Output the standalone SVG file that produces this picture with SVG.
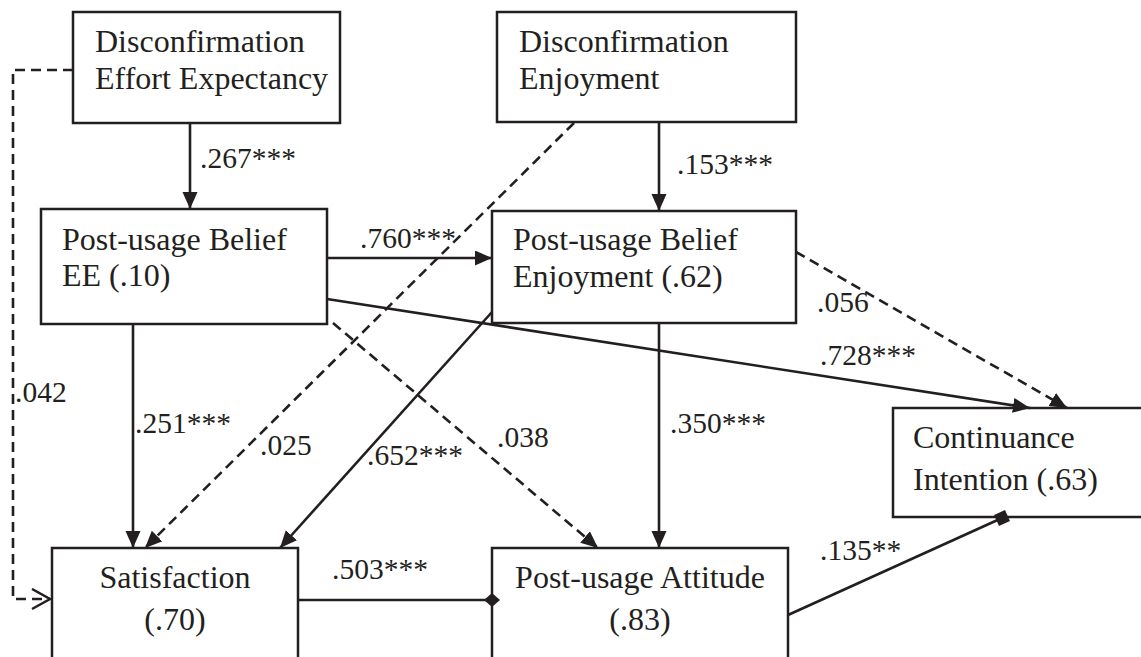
<svg xmlns="http://www.w3.org/2000/svg" width="1141" height="657" viewBox="0 0 1141 657">
  <style>
    .box { fill: #ffffff; stroke: #231f20; stroke-width: 2.5; }
    text { font-family: 'Liberation Serif', Tinos, 'DejaVu Serif', serif; fill: #231f20; }
    .t { font-size: 32px; }
    .c { text-anchor: middle; }
    .lbl { font-size: 29.5px; }
    .ln { fill: none; stroke: #231f20; stroke-width: 2.6; }
    .dash { stroke-dasharray: 10 6; }
  </style>
  <defs>
    <marker id="arrow" markerUnits="userSpaceOnUse" markerWidth="18" markerHeight="16" refX="17" refY="7.5" orient="auto" viewBox="0 0 18 16">
      <path d="M0,0 L17,7.5 L0,15 z" fill="#231f20"/>
    </marker>
    <marker id="open" markerUnits="userSpaceOnUse" markerWidth="22" markerHeight="24" refX="19" refY="11" orient="auto" viewBox="0 0 22 24">
      <path d="M1,1 L19,11 L1,21" fill="none" stroke="#231f20" stroke-width="2.5"/>
    </marker>
    <marker id="diamond" markerUnits="userSpaceOnUse" markerWidth="16" markerHeight="14" refX="8" refY="7" orient="auto" viewBox="0 0 16 14">
      <path d="M0,7 L8,0 L16,7 L8,14 z" fill="#231f20"/>
    </marker>
    <marker id="square" markerUnits="userSpaceOnUse" markerWidth="14" markerHeight="14" refX="7" refY="7" orient="auto" viewBox="0 0 14 14">
      <path d="M1,1 L13,1 L13,13 L1,13 z" fill="#231f20"/>
    </marker>
  </defs>

  <g id="disc-ee">
    <rect class="box" x="73" y="12" width="267" height="111"/>
    <text class="t" x="95" y="52">Disconfirmation</text>
    <text class="t" x="95" y="89">Effort Expectancy</text>
  </g>

  <g id="disc-enjoyment">
    <rect class="box" x="497" y="12" width="299" height="110"/>
    <text class="t" x="519" y="52">Disconfirmation</text>
    <text class="t" x="519" y="89">Enjoyment</text>
  </g>

  <g id="belief-ee">
    <rect class="box" x="41" y="209" width="286" height="115"/>
    <text class="t" x="62" y="250">Post-usage Belief</text>
    <text class="t" x="62" y="286">EE (.10)</text>
  </g>

  <g id="belief-enjoyment">
    <rect class="box" x="492" y="211" width="304" height="112"/>
    <text class="t" x="513" y="250">Post-usage Belief</text>
    <text class="t" x="513" y="287">Enjoyment (.62)</text>
  </g>

  <g id="continuance">
    <rect class="box" x="893" y="408" width="260" height="109"/>
    <text class="t" x="913" y="448">Continuance</text>
    <text class="t" x="913" y="490">Intention (.63)</text>
  </g>

  <g id="satisfaction">
    <rect class="box" x="52" y="548" width="246" height="120"/>
    <text class="t c" x="175" y="588">Satisfaction</text>
    <text class="t c" x="175" y="630">(.70)</text>
  </g>

  <g id="attitude">
    <rect class="box" x="492" y="548" width="296" height="120"/>
    <text class="t c" x="640" y="588">Post-usage Attitude</text>
    <text class="t c" x="640" y="630">(.83)</text>
  </g>

  <!-- paths between constructs, drawn over the boxes so end markers stay whole -->
  <g id="connectors">
    <path class="ln dash" d="M73,70 H13 V599 H50" marker-end="url(#open)"/>
    <path class="ln dash" d="M574,123 L145,548" marker-end="url(#arrow)"/>
    <path class="ln dash" d="M333,323 L598,548" marker-end="url(#arrow)"/>
    <path class="ln dash" d="M796,252 L1067,408" marker-end="url(#arrow)"/>
    <path class="ln" d="M190,123 V209" marker-end="url(#arrow)"/>
    <path class="ln" d="M659,122 V211" marker-end="url(#arrow)"/>
    <path class="ln" d="M327,258 H492" marker-end="url(#arrow)"/>
    <path class="ln" d="M327,299 L1030,408" marker-end="url(#arrow)"/>
    <path class="ln" d="M133,324 V548" marker-end="url(#arrow)"/>
    <path class="ln" d="M492,312 L280,548" marker-end="url(#arrow)"/>
    <path class="ln" d="M659,323 V548" marker-end="url(#arrow)"/>
    <path class="ln" d="M298,600 H492" marker-end="url(#diamond)"/>
    <path class="ln" d="M788,615 L1002,518" marker-end="url(#square)"/>
  </g>

  <!-- path coefficients -->
  <g id="labels">
    <text class="lbl" x="200" y="168">.267***</text>
    <text class="lbl" x="677" y="174">.153***</text>
    <text class="lbl" x="360" y="248">.760***</text>
    <text class="lbl" x="817" y="312">.056</text>
    <text class="lbl" x="820" y="365">.728***</text>
    <text class="lbl" x="15" y="402">.042</text>
    <text class="lbl" x="135" y="433">.251***</text>
    <text class="lbl" x="260" y="455">.025</text>
    <text class="lbl" x="367" y="465">.652***</text>
    <text class="lbl" x="497" y="447">.038</text>
    <text class="lbl" x="670" y="433">.350***</text>
    <text class="lbl" x="332" y="579">.503***</text>
    <text class="lbl" x="820" y="560">.135**</text>
  </g>
</svg>
